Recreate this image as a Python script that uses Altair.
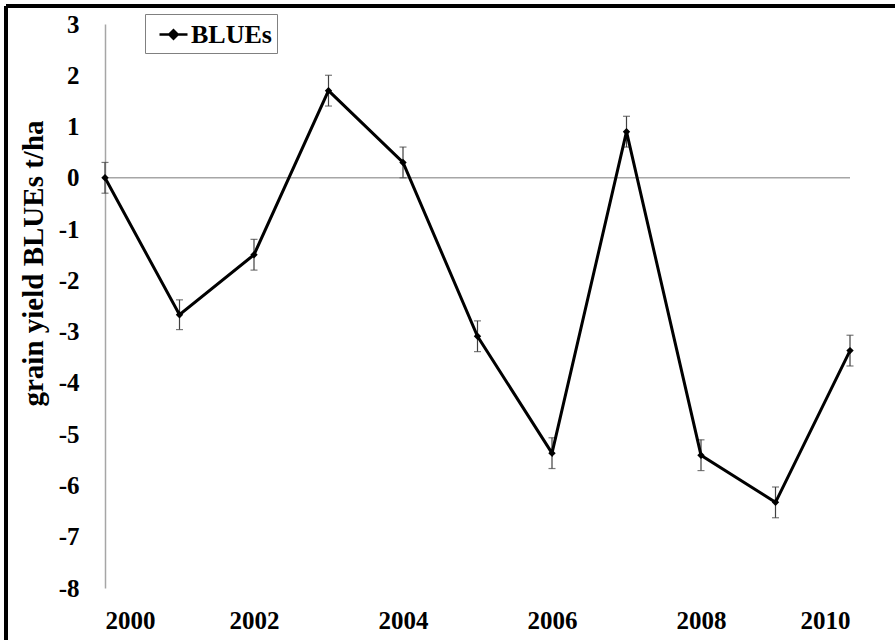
import altair as alt
import pandas as pd

# Yearly best linear unbiased estimates of grain yield (t/ha) with standard errors
years = [2000, 2001, 2002, 2003, 2004, 2005, 2006, 2007, 2008, 2009, 2010]
blues = [0.00, -2.67, -1.50, 1.70, 0.30, -3.09, -5.37, 0.90, -5.41, -6.33, -3.37]
std_err = [0.30, 0.29, 0.30, 0.30, 0.30, 0.30, 0.30, 0.30, 0.30, 0.30, 0.30]

x_ticks = [2000, 2002, 2004, 2006, 2008, 2010]
y_ticks = [3, 2, 1, 0, -1, -2, -3, -4, -5, -6, -7, -8]

SERIF = "Liberation Serif"
W, H = 745, 564

df = pd.DataFrame({"year": years, "blue": blues, "se": std_err})

base = alt.Chart(df).transform_calculate(
    lo="datum.blue - datum.se",
    hi="datum.blue + datum.se",
    series="'BLUEs'",
)

x_enc = alt.X(
    "year:Q",
    scale=alt.Scale(domain=[2000, 2010], nice=False, zero=False),
    axis=alt.Axis(
        values=x_ticks, format="d", title=None, grid=False, domain=False,
        ticks=False, labelPadding=20,
    ),
)
y_scale = alt.Scale(domain=[-8, 3], nice=False, zero=False)

# horizontal reference at zero
zero_line = alt.Chart(pd.DataFrame({"v": [0]})).mark_rule(
    color="#a6a6a6", strokeWidth=1.5
).encode(
    y=alt.Y("v:Q", scale=y_scale),
    x=alt.datum(2000),
    x2=alt.datum(2010),
)

err_rule = base.mark_rule(color="#404040", strokeWidth=1.2).encode(
    x=x_enc,
    y=alt.Y("lo:Q", scale=y_scale),
    y2="hi:Q",
)
cap_lo = base.mark_tick(orient="horizontal", size=7, thickness=1.2, color="#404040").encode(
    x=x_enc, y=alt.Y("lo:Q", scale=y_scale)
)
cap_hi = base.mark_tick(orient="horizontal", size=7, thickness=1.2, color="#404040").encode(
    x=x_enc, y=alt.Y("hi:Q", scale=y_scale)
)

line = base.mark_line(strokeWidth=3).encode(
    x=x_enc,
    y=alt.Y(
        "blue:Q",
        scale=y_scale,
        axis=alt.Axis(
            values=y_ticks, labelExpr="'' + datum.value",
            title="grain yield BLUEs t/ha", grid=False,
            domainColor="#a6a6a6", domainWidth=1.5, ticks=False, labelPadding=26,
            titleX=-72, titleY=239, titleAngle=-90, titleAlign="center",
            titleBaseline="middle",
        ),
    ),
    color=alt.Color(
        "series:N",
        scale=alt.Scale(range=["black"]),
        legend=alt.Legend(
            title=None, orient="none", legendX=40, legendY=-10,
            symbolType="M-1,0H1M-0.3,0L0,-0.3L0.3,0L0,0.3Z",
            symbolSize=784, symbolStrokeWidth=2.5, symbolStrokeColor="black",
            symbolFillColor="black", symbolOffset=8, labelOffset=2,
            padding=5, strokeColor="#808080", fillColor="white",
            labelFont=SERIF, labelFontWeight="bold", labelFontSize=26,
            labelColor="black",
        ),
    ),
)

points = base.mark_point(shape="diamond", filled=True, size=55, opacity=1, color="black").encode(
    x=x_enc, y=alt.Y("blue:Q", scale=y_scale)
)

# outer frame (left and top edges)
frame_left = alt.Chart(df).mark_rule(color="black", strokeWidth=3).encode(
    x=alt.value(-99), y=alt.value(-18), y2=alt.value(H + 52)
)
frame_top = alt.Chart(df).mark_rule(color="black", strokeWidth=3).encode(
    x=alt.value(-99), x2=alt.value(W + 45), y=alt.value(-18)
)

chart = (
    alt.layer(zero_line, err_rule, cap_lo, cap_hi, line, points, frame_left, frame_top)
    .properties(
        width=W, height=H,
        autosize=alt.AutoSizeParams(type="none"),
        padding={"left": 105, "top": 24, "right": 45, "bottom": 52},
        background="white",
    )
    .configure_view(stroke=None)
    .configure_axis(
        labelFont=SERIF, labelFontWeight="bold", labelFontSize=25, labelColor="black",
        titleFont=SERIF, titleFontWeight="bold", titleFontSize=29, titleColor="black",
    )
)

chart.save("out.html", embed_options={"renderer": "svg", "actions": False})
